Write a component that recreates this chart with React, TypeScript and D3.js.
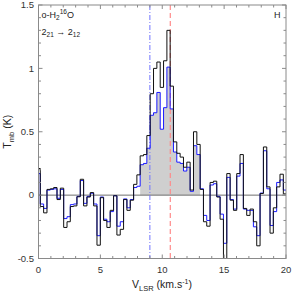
import React from 'react';
import * as d3 from 'd3';

// channel centres (km/s)
const velocity = [
  0.01, 0.28, 0.55, 0.82, 1.09, 1.36, 1.63, 1.90, 2.17, 2.44,
  2.70, 2.97, 3.24, 3.51, 3.78, 4.05, 4.32, 4.59, 4.86, 5.13,
  5.39, 5.66, 5.93, 6.20, 6.47, 6.74, 7.01, 7.28, 7.55, 7.82,
  8.08, 8.35, 8.62, 8.89, 9.16, 9.43, 9.70, 9.97, 10.24, 10.51,
  10.77, 11.04, 11.31, 11.58, 11.85, 12.12, 12.39, 12.66, 12.93, 13.20,
  13.46, 13.73, 14.00, 14.27, 14.54, 14.81, 15.08, 15.35, 15.62, 15.89,
  16.15, 16.42, 16.69, 16.96, 17.23, 17.50, 17.77, 18.04, 18.31, 18.58,
  18.84, 19.11, 19.38, 19.65, 19.92,
];

// observed spectrum (black)
const tmbObs = [
  0.21, -0.09, -0.14, 0.045, 0.05, 0.06, -0.035, 0.055, -0.255, -0.21,
  -0.09, -0.085, -0.013, 0.125, -0.085, -0.015, 0.02, -0.085, -0.395, -0.02,
  -0.2, -0.255, -0.12, -0.005, -0.315, -0.27, -0.035, -0.12, -0.04, 0.085,
  0.16, 0.31, 0.32, 0.47, 0.8, 1.0, 1.05, 0.85, 1.06, 1.3,
  0.86, 0.42, 0.33, 0.3, 0.22, 0.26, 0.04, 0.5, 0.4, 0.045,
  -0.21, -0.245, 0.1, 0.11, -0.015, -0.19, -0.5, 0.17, -0.04, -0.12,
  0.17, 0.32, -0.105, -0.16, -0.11, -0.21, -0.4, 0.013, 0.38, 0.065,
  -0.3, -0.1, 0.065, 0.165, 0.01,
];

// second spectrum (blue)
const tmbBlue = [
  0.17, -0.07, -0.105, 0.04, 0.045, 0.05, -0.025, 0.045, -0.185, -0.17,
  -0.075, -0.07, -0.01, 0.115, -0.065, -0.01, 0.015, -0.07, -0.32, -0.015,
  -0.19, -0.21, -0.13, -0.005, -0.245, -0.21, -0.03, -0.1, -0.035, 0.06,
  0.07, 0.24, 0.25, 0.37, 0.63, 0.65, 0.81, 0.52, 0.69, 1.01,
  0.68, 0.34, 0.26, 0.25, 0.19, 0.22, 0.03, 0.39, 0.32, 0.05,
  -0.16, -0.2, 0.08, 0.09, -0.01, -0.15, -0.38, 0.14, -0.035, -0.11,
  0.15, 0.25, -0.11, -0.12, -0.12, -0.25, -0.32, 0.016, 0.35, 0.05,
  -0.24, -0.13, 0.1, 0.12, 0.04,
];

const fillWindow = [8.2, 13.07];
const vBlue = 9.0;
const vRed = 10.65;
const xTickLabels = [0, 5, 10, 15, 20];
const yTickLabels = [-0.5, 0, 0.5, 1, 1.5];

const W = 292, H = 293;
const L = 38.5, R = 286, T = 5, B = 258.5;
const font = '"Liberation Sans", Arial, sans-serif';

export default function App() {
  const x = d3.scaleLinear().domain([0, 20]).range([L, R]);
  const y = d3.scaleLinear().domain([-0.5, 1.5]).range([B, T]);

  const edges = velocity.map((v, i) => {
    const lo = i === 0 ? v - (velocity[1] - velocity[0]) / 2 : (velocity[i - 1] + v) / 2;
    const hi = i === velocity.length - 1 ? v + (v - velocity[i - 1]) / 2 : (v + velocity[i + 1]) / 2;
    return [lo, hi];
  });

  const stepPts = (vals: number[], idx: number[]) => {
    const pts: [number, number][] = [];
    idx.forEach((i) => {
      pts.push([x(edges[i][0]), y(vals[i])]);
      pts.push([x(edges[i][1]), y(vals[i])]);
    });
    return pts;
  };

  const all = velocity.map((_, i) => i);
  const line = d3.line();
  const obsPath = line(stepPts(tmbObs, all)) || '';
  const bluePath = line(stepPts(tmbBlue, all)) || '';

  const fillIdx = all.filter((i) => velocity[i] > fillWindow[0] && velocity[i] < fillWindow[1]);
  const fillPts = stepPts(tmbBlue, fillIdx);
  const area = d3.area<[number, number]>().x((d) => d[0]).y0(y(0)).y1((d) => d[1]);
  const fillPath = area(fillPts) || '';

  const xMinor = x.ticks(20);
  const yMinor = y.ticks(20);
  const grey = '#8a8a8a';

  return (
    <svg width={W} height={H} style={{ position: 'absolute', left: 0, top: 0, background: '#fff' }}>
      <defs>
        <clipPath id="plot">
          <rect x={L} y={T} width={R - L} height={B - T} />
        </clipPath>
      </defs>
      <g clipPath="url(#plot)">
        <path d={fillPath} fill="#cfcfcf" stroke="none" />
        <line x1={L} x2={R} y1={y(0)} y2={y(0)} stroke="#6e6e6e" strokeWidth={1} />
        <line x1={x(vBlue)} x2={x(vBlue)} y1={T} y2={B} stroke="#6f74ff" strokeWidth={1} strokeDasharray="5,2,1,2" />
        <line x1={x(vRed)} x2={x(vRed)} y1={T} y2={B} stroke="#ff8a8a" strokeWidth={1.2} strokeDasharray="5,3" />
        <path d={bluePath} fill="none" stroke="#1a1aff" strokeWidth={1} />
        <path d={obsPath} fill="none" stroke="#111" strokeWidth={1} />
      </g>

      <rect x={L} y={T} width={R - L} height={B - T} fill="none" stroke={grey} strokeWidth={1} />
      {xMinor.map((t) => {
        const major = xTickLabels.includes(t);
        const len = major ? 4 : 2.5;
        return (
          <g key={'x' + t}>
            <line x1={x(t)} x2={x(t)} y1={B} y2={B - len} stroke={grey} />
            <line x1={x(t)} x2={x(t)} y1={T} y2={T + len} stroke={grey} />
          </g>
        );
      })}
      {yMinor.map((t) => {
        const major = yTickLabels.some((v) => Math.abs(v - t) < 1e-9);
        const len = major ? 4 : 2.5;
        return (
          <g key={'y' + t}>
            <line x1={L} x2={L + len} y1={y(t)} y2={y(t)} stroke={grey} />
            <line x1={R} x2={R - len} y1={y(t)} y2={y(t)} stroke={grey} />
          </g>
        );
      })}

      <g fontFamily={font} fontSize={9.5} fill="#333">
        {xTickLabels.map((t) => (
          <text key={'xl' + t} x={x(t)} y={273} textAnchor="middle">{t}</text>
        ))}
        {yTickLabels.map((t) => (
          <text key={'yl' + t} x={34} y={y(t) + 3.3} textAnchor="end">{String(t)}</text>
        ))}
      </g>

      <g fontFamily={font} fill="#222">
        <text x={162} y={288} textAnchor="middle" fontSize={10.5}>
          V<tspan fontSize={7.5} dy={2.5}>LSR</tspan>
          <tspan dy={-2.5}> (km.s</tspan>
          <tspan fontSize={7} dy={-4}>-1</tspan>
          <tspan dy={4}>)</tspan>
        </text>
        <text transform={`translate(11,${(T + B) / 2}) rotate(-90)`} textAnchor="middle" fontSize={10.5}>
          T<tspan fontSize={7.5} dy={2.5}>mb</tspan>
          <tspan dy={-2.5}> (K)</tspan>
        </text>
        <text x={41.5} y={18} fontSize={9}>
          o-H<tspan fontSize={6.5} dy={2}>2</tspan>
          <tspan fontSize={6.5} dy={-6}>16</tspan>
          <tspan dy={4}>O</tspan>
        </text>
        <text x={41.5} y={35} fontSize={9}>
          2<tspan fontSize={6.5} dy={2}>21</tspan>
          <tspan dy={-2}> → 2</tspan>
          <tspan fontSize={6.5} dy={2}>12</tspan>
        </text>
        <text x={274} y={18} fontSize={9}>H</text>
      </g>
    </svg>
  );
}
